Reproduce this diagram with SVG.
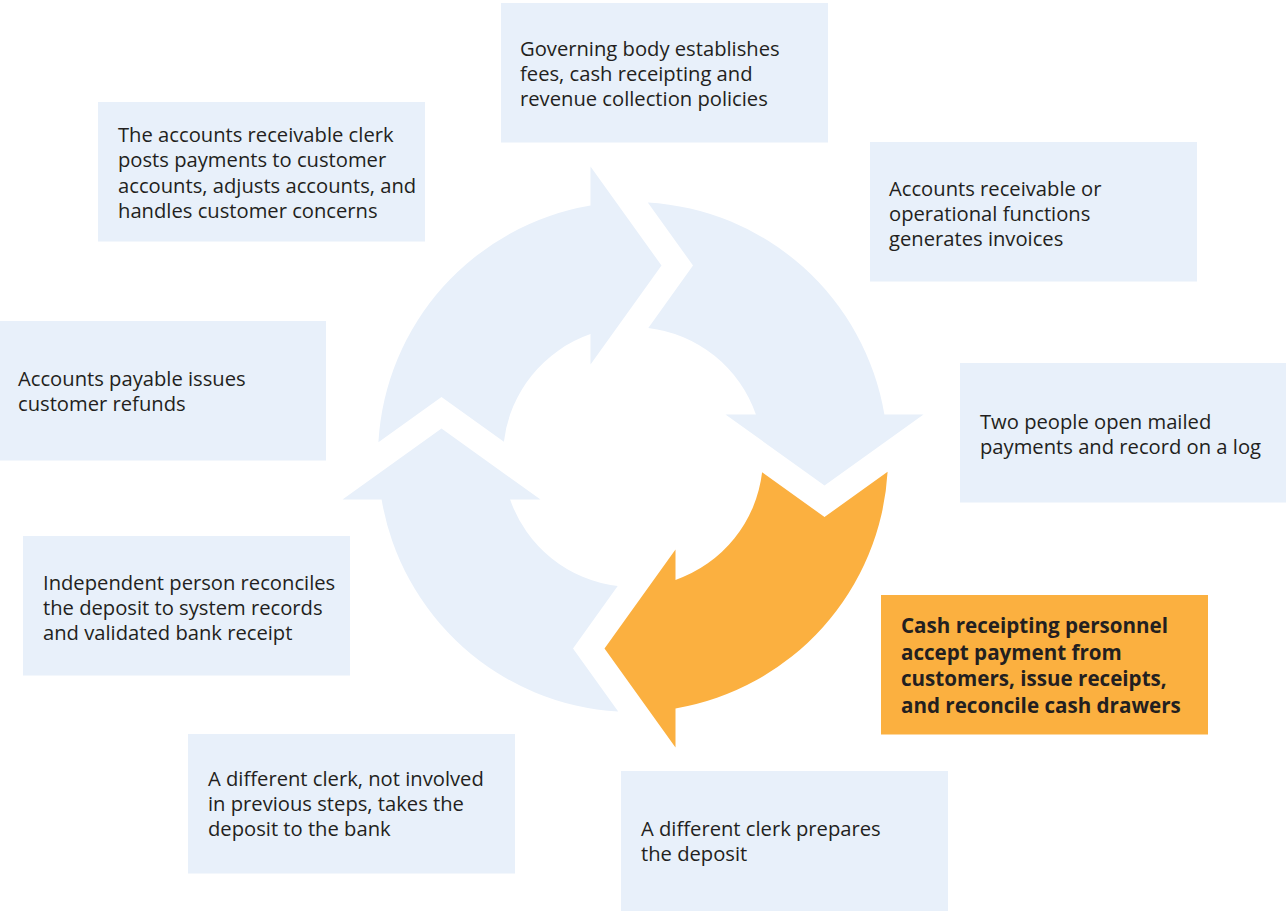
<svg xmlns="http://www.w3.org/2000/svg" width="1286" height="911" viewBox="0 0 1286 911">
<style>
.box{fill:#E8F0FA}
.hl{fill:#FBB040}
.arr{fill:#E8F0FA}
.arr-hl{fill:#FBB040}
.t{font-family:"Open Sans","Liberation Sans",sans-serif;font-size:20.2px;fill:#231F20}
.tb{font-family:"Open Sans","Liberation Sans",sans-serif;font-size:20.6px;font-weight:bold;fill:#231F20}
</style>
<defs>
<path id="arrowShape" d="M -254.6 -14.8 A 255 255 0 0 1 -42.5 -251.4 L -42.5 -290.5 L 28.5 -191.5 L -42.5 -92.5 L -42.5 -122.9 A 130 130 0 0 0 -129.1 -15.3 L -191.5 -60 Z"/>
</defs>
<rect width="1286" height="911" fill="#FFFFFF"/>
<g id="cycle-arrows" transform="translate(633,457)">
<use href="#arrowShape" class="arr"/>
<use href="#arrowShape" class="arr" transform="rotate(90)"/>
<use href="#arrowShape" class="arr-hl" transform="rotate(180)"/>
<use href="#arrowShape" class="arr" transform="rotate(270)"/>
</g>
<g id="node-governing">
<rect class="box" x="501" y="3" width="327" height="139.5"/>
<text class="t" x="520" y="56"><tspan x="520">Governing body establishes</tspan><tspan x="520" dy="25">fees, cash receipting and</tspan><tspan x="520" dy="25">revenue collection policies</tspan></text>
</g>
<g id="node-invoices">
<rect class="box" x="870" y="142" width="327" height="139.5"/>
<text class="t" x="889" y="196"><tspan x="889">Accounts receivable or</tspan><tspan x="889" dy="25">operational functions</tspan><tspan x="889" dy="25">generates invoices</tspan></text>
</g>
<g id="node-mail">
<rect class="box" x="960" y="363" width="326" height="139.5"/>
<text class="t" x="980" y="429"><tspan x="980">Two people open mailed</tspan><tspan x="980" dy="25">payments and record on a log</tspan></text>
</g>
<g id="node-cash">
<rect class="hl" x="881" y="595" width="327" height="139.5"/>
<text class="tb" x="901" y="633"><tspan x="901">Cash receipting personnel</tspan><tspan x="901" dy="26.7">accept payment from</tspan><tspan x="901" dy="26.7">customers, issue receipts,</tspan><tspan x="901" dy="26.7">and reconcile cash drawers</tspan></text>
</g>
<g id="node-prepare">
<rect class="box" x="621" y="771" width="327" height="140"/>
<text class="t" x="641" y="836"><tspan x="641">A different clerk prepares</tspan><tspan x="641" dy="25">the deposit</tspan></text>
</g>
<g id="node-bank">
<rect class="box" x="188" y="734" width="327" height="139.5"/>
<text class="t" x="208" y="786"><tspan x="208">A different clerk, not involved</tspan><tspan x="208" dy="25">in previous steps, takes the</tspan><tspan x="208" dy="25">deposit to the bank</tspan></text>
</g>
<g id="node-reconcile">
<rect class="box" x="23" y="536" width="327" height="139.5"/>
<text class="t" x="43" y="590"><tspan x="43">Independent person reconciles</tspan><tspan x="43" dy="25">the deposit to system records</tspan><tspan x="43" dy="25">and validated bank receipt</tspan></text>
</g>
<g id="node-refunds">
<rect class="box" x="0" y="321" width="326" height="139.5"/>
<text class="t" x="18" y="386"><tspan x="18">Accounts payable issues</tspan><tspan x="18" dy="25">customer refunds</tspan></text>
</g>
<g id="node-posts">
<rect class="box" x="98" y="102" width="327" height="139.5"/>
<text class="t" x="118" y="142"><tspan x="118">The accounts receivable clerk</tspan><tspan x="118" dy="25.3">posts payments to customer</tspan><tspan x="118" dy="25.3">accounts, adjusts accounts, and</tspan><tspan x="118" dy="25.3">handles customer concerns</tspan></text>
</g>
</svg>
